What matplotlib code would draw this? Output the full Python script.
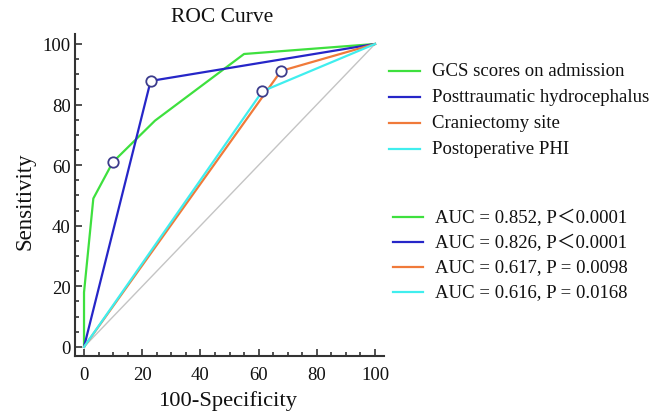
import matplotlib
matplotlib.use("Agg")
import matplotlib.pyplot as plt
from matplotlib.lines import Line2D
from matplotlib.ticker import MultipleLocator

plt.rcParams['font.family'] = ['Liberation Serif', 'Noto Sans CJK SC', 'DejaVu Sans']

# ROC curve points (100-Specificity, Sensitivity)
gcs_x = [0, 0, 3.2, 9.9, 24.4, 55.0, 100]
gcs_y = [0, 18, 49, 61, 74.7, 96.7, 100]
hydro_x = [0, 22.9, 100]
hydro_y = [0, 87.8, 100]
cran_x = [0, 67.7, 100]
cran_y = [0, 91.1, 100]
phi_x = [0, 61.3, 100]
phi_y = [0, 84.4, 100]

# Criterion points (circles)
crit_x = [9.9, 22.9, 67.7, 61.3]
crit_y = [61, 87.8, 91.1, 84.4]

names = ["GCS scores on admission", "Posttraumatic hydrocephalus",
         "Craniectomy site", "Postoperative PHI"]
auc_labels = ["AUC = 0.852, P\uff1c0.0001", "AUC = 0.826, P\uff1c0.0001",
              "AUC = 0.617, P = 0.0098", "AUC = 0.616, P = 0.0168"]
colors = ["#3ee03e", "#2626c8", "#f07a3a", "#40eeee"]

W, H = 665, 414
fig = plt.figure(figsize=(W / 100, H / 100), dpi=100)
ax = fig.add_axes([75 / W, 1 - 357 / H, (384 - 75) / W, (357 - 35) / H])

ax.plot([0, 100], [0, 100], color="#c4c4c4", lw=1.0, zorder=1)
series = [(gcs_x, gcs_y), (hydro_x, hydro_y), (cran_x, cran_y), (phi_x, phi_y)]
for (xs, ys), c in zip(series, colors):
    ax.plot(xs, ys, color=c, lw=1.6, zorder=2)
ax.plot(crit_x, crit_y, linestyle="none", marker="o", ms=7.5,
        mfc="white", mec="#3c3c8c", mew=1.3, zorder=4)

ax.set_xlim(-3.1, 103.1)
ax.set_ylim(-3.0, 103.3)
for s in ["top", "right"]:
    ax.spines[s].set_visible(False)
for s in ["left", "bottom"]:
    ax.spines[s].set_linewidth(1.5)
    ax.spines[s].set_color("#333333")
ax.xaxis.set_major_locator(MultipleLocator(20))
ax.xaxis.set_minor_locator(MultipleLocator(5))
ax.yaxis.set_major_locator(MultipleLocator(20))
ax.yaxis.set_minor_locator(MultipleLocator(5))
ax.tick_params(which="both", direction="in", color="#333333", width=1.2,
               labelsize=13.5, labelcolor="#111111")
ax.tick_params(which="major", length=5)
ax.tick_params(which="minor", length=3)
ax.tick_params(axis="x", which="both", pad=7)
ax.tick_params(axis="y", which="both", pad=3)

fig.text(222 / W, 1 - 18 / H, "ROC Curve", ha="center", va="center",
         fontsize=15.5, color="#111111")
fig.text(228 / W, 1 - 401 / H, "100-Specificity", ha="center", va="center",
         fontsize=16.2, color="#111111")
fig.text(25 / W, 1 - 201 / H, "Sensitivity", ha="center", va="center",
         fontsize=16.5, rotation=90, color="#111111")

# Legends (manual)
rows1 = [71.7, 97.7, 124, 150]
for y, c, t in zip(rows1, colors, names):
    fig.add_artist(Line2D([389 / W, 420 / W], [1 - y / H, 1 - y / H],
                          color=c, lw=1.6, transform=fig.transFigure))
    fig.text(432 / W, 1 - y / H, t, ha="left", va="center", fontsize=13.5,
             color="#111111")
rows2 = [218, 243, 268, 293]
for y, c, t in zip(rows2, colors, auc_labels):
    fig.add_artist(Line2D([393 / W, 423 / W], [1 - y / H, 1 - y / H],
                          color=c, lw=1.6, transform=fig.transFigure))
    fig.text(435 / W, 1 - y / H, t, ha="left", va="center", fontsize=13.5,
             color="#111111")

fig.savefig("out.png", dpi=100)
